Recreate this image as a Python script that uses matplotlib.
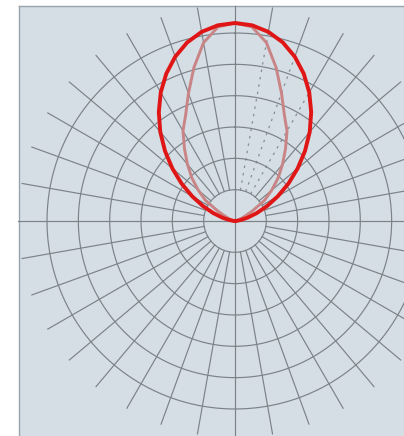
# Polar light distribution diagram (two planes) on a blue-grey panel
import numpy as np
import matplotlib.pyplot as plt
from matplotlib.patches import Rectangle
from matplotlib.lines import Line2D

# gamma angles in degrees, 0 = straight up, positive to the right
gamma = [-90, -85, -80, -75, -70, -65, -60, -55, -50, -45, -40, -35, -30, -25, -20, -15, -10, -5,
         0, 5, 10, 15, 20, 25, 30, 35, 40, 45, 50, 55, 60, 65, 70, 75, 80, 85, 90]

# wide plane (thick red curve), cd/klm
plane_wide = [0, 5, 19, 42, 74, 113, 158, 208, 261, 316, 371, 424, 474, 519, 558, 590, 613, 627,
              632, 627, 613, 590, 558, 519, 474, 424, 371, 316, 261, 208, 158, 113, 74, 42, 19, 5, 0]

# narrow plane (pale red curve), cd/klm
plane_narrow = [0, 0, 0, 6, 16, 32, 64, 115, 153, 195, 236, 281, 332, 373, 434, 507, 578, 622,
                632, 622, 578, 507, 434, 373, 332, 281, 236, 195, 153, 115, 64, 32, 16, 6, 0, 0, 0]

# grid
ring_values = [100, 200, 300, 400, 500, 600]
spoke_angles = list(range(0, 360, 10))
r_max = 700

# spokes that show up broken/dashed inside the lobe
dashed_spokes = [10, 20, 30]

# figure: 404 x 436 px
W, H = 404, 436
fig = plt.figure(figsize=(W / 100, H / 100), dpi=100)
fig.patch.set_facecolor('white')

# panel background and its left/top border
x0, y_top = 18.5, 6.5
fig.patches.append(Rectangle((x0 / W, 0), 1 - x0 / W, 1 - y_top / H, transform=fig.transFigure,
                             facecolor='#d5dde5', edgecolor='none', zorder=-10))
border = '#9aa2ab'
fig.lines.append(Line2D([x0 / W, x0 / W], [0, 1 - y_top / H], transform=fig.transFigure,
                        color=border, lw=1.0, zorder=-5))
fig.lines.append(Line2D([x0 / W, 1], [1 - y_top / H, 1 - y_top / H], transform=fig.transFigure,
                        color=border, lw=1.0, zorder=-5))

# polar axes centred on pixel (235, 221), 100 cd = 31.33 px
cx, cy = 235, 221
px_per_unit = 31.33 / 100
R = r_max * px_per_unit
ax = fig.add_axes([(cx - R) / W, (H - cy - R) / H, 2 * R / W, 2 * R / H], projection='polar')
ax.set_theta_zero_location('N')
ax.set_theta_direction(-1)
ax.set_ylim(0, r_max)
ax.set_facecolor('none')
ax.grid(False)
ax.set_xticks([])
ax.set_yticks([])
ax.spines['polar'].set_visible(False)

grid_col = '#7c8288'
grid_lw = 0.85

t = np.linspace(0, 2 * np.pi, 721)
for rv in ring_values:
    ax.plot(t, np.full_like(t, rv), color=grid_col, lw=grid_lw, zorder=2)

for a in spoke_angles:
    if a % 90 == 0:
        continue
    th = np.deg2rad(a)
    if a in dashed_spokes:
        r_edge = plane_wide[gamma.index(a)]
        ax.plot([th, th], [100, r_edge], color='#737a84', lw=0.9, ls=(0, (2, 4)), alpha=0.8, zorder=2)
        ax.plot([th, th], [r_edge, 690], color=grid_col, lw=grid_lw, zorder=2)
    else:
        ax.plot([th, th], [100, 690], color=grid_col, lw=grid_lw, zorder=2)

# main axes through the centre, out to the panel edges
ax.plot([0, 0], [0, 686], color=grid_col, lw=grid_lw, zorder=2)
ax.plot([np.pi, np.pi], [0, 690], color=grid_col, lw=grid_lw, zorder=2)
ax.plot([np.pi / 2] * 2, [0, 690], color=grid_col, lw=grid_lw, zorder=2)
ax.plot([3 * np.pi / 2] * 2, [0, 693], color=grid_col, lw=grid_lw, zorder=2)

# curves
g = np.deg2rad(gamma)
ax.plot(g, plane_narrow, color='#c98585', lw=2.1, zorder=4, solid_capstyle='round')
ax.plot(g, plane_wide, color='#e01515', lw=2.8, zorder=5, solid_capstyle='round')

plt.savefig('out.png', dpi=100)
